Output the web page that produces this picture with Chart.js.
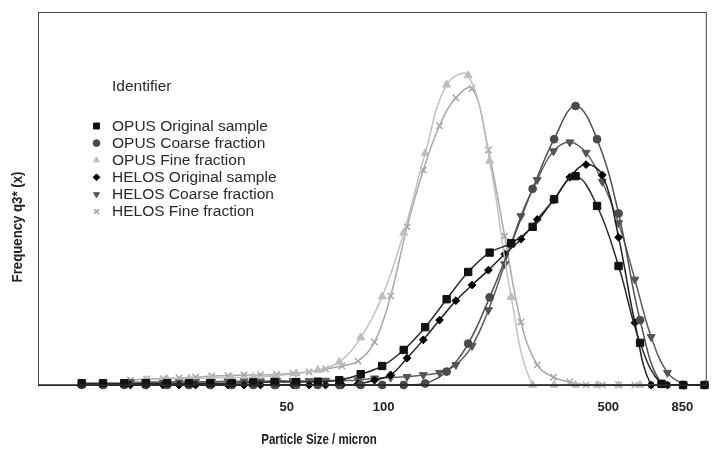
<!DOCTYPE html>
<html><head><meta charset="utf-8">
<script src="https://cdn.jsdelivr.net/npm/chart.js@4.4.1/dist/chart.umd.min.js"></script>
<style>html,body{margin:0;padding:0;background:#fff;} canvas{display:block;}</style>
</head><body>
<canvas id="c" width="713" height="453"></canvas>
<script>
// ---- data (particle size in micron, frequency q3* in arbitrary units) ----
const opusSizes = [11.5, 13.4, 15.6, 18.2, 21.2, 24.8, 28.9, 33.7, 39.3, 45.8, 53.5, 62.4, 72.8, 84.9, 99.0, 115.5, 134.7, 157.1, 183.3, 213.8, 249.4, 290.9, 339.3, 395.7, 461.6, 538.4, 628.0, 732.6, 854.5, 996.7];
const helosSizes = [16.3, 18.3, 20.6, 23.1, 26.0, 29.2, 32.8, 36.8, 41.4, 46.5, 52.3, 58.7, 66.0, 74.2, 83.3, 93.7, 105.2, 118.3, 132.9, 149.3, 167.8, 188.5, 211.9, 238.1, 267.5, 300.6, 337.8, 379.6, 426.5, 479.3, 538.5, 605.1, 680.0, 764.1, 858.6];

const opusOriginal = [0.5, 0.5, 0.5, 0.5, 0.5, 0.5, 0.5, 0.5, 0.7, 0.8, 0.8, 0.9, 1.3, 2.9, 5.1, 9.4, 15.5, 23.0, 30.3, 35.5, 38.0, 42.4, 49.8, 56.0, 48.0, 31.9, 11.3, 0.3, 0, 0];
const opusCoarse = [0, 0, 0, 0, 0, 0, 0, 0, 0, 0, 0, 0, 0, 0, 0, 0, 0.4, 3.6, 11.1, 23.5, 37.8, 52.6, 65.9, 74.8, 65.9, 46.0, 17.4, 0.3, 0, 0];
const opusFine = [0, 0, 0, 1.3, 1.6, 1.7, 1.9, 2.0, 2.1, 2.4, 3.1, 4.0, 6.2, 12.7, 23.7, 40.8, 62.1, 80.5, 83.0, 60.1, 23.6, 0, 0, 0, 0, 0, 0, 0, 0, 0];

const helosOriginal = [0, 0, 0, 0, 0, 0, 0, 0, 0, 0, 0, 0, 0, 0, 0.3, 1.3, 2.7, 7.2, 12.1, 17.4, 22.6, 26.8, 30.8, 35.1, 39.1, 44.4, 49.6, 55.7, 59.1, 56.3, 39.6, 16.7, 0, 0, 0];
const helosCoarse = [0.8, 0.8, 0.8, 0.9, 0.9, 0.9, 1.0, 1.0, 1.0, 1.1, 1.1, 1.1, 1.2, 1.2, 1.3, 1.8, 2.0, 2.2, 2.7, 3.3, 5.4, 10.5, 20.1, 32.4, 45.3, 55.0, 62.7, 65.1, 62.3, 54.5, 43.4, 28.3, 12.9, 3.3, 0];
const helosFine = [1.3, 1.6, 1.7, 1.9, 2.1, 2.4, 2.5, 2.7, 2.7, 2.8, 3.1, 3.5, 4.3, 5.1, 6.4, 11.5, 23.9, 42.4, 57.6, 69.5, 77.0, 79.5, 63.0, 39.9, 16.9, 5.4, 2.1, 0.8, 0, 0, 0, 0, 0, 0, 0];

const seriesLabels = ['OPUS Original sample', 'OPUS Coarse fraction', 'OPUS Fine fraction', 'HELOS Original sample', 'HELOS Coarse fraction', 'HELOS Fine fraction'];
const xTickValues = [50, 100, 500, 850];
const legendTitle = 'Identifier';
const xTitle = 'Particle Size / micron';
const yTitle = 'Frequency q3* (x)';

// ---- styling ----
const SANS = "'Liberation Sans',Arial,sans-serif";

function pts(xs, ys) { return xs.map((x, i) => ({ x: x, y: ys[i] })); }

const looks = [
  { marker: '#111111', line: '#2a2a2a', style: 'rect', r: 5.2, rot: 0, bw: 1 },
  { marker: '#4a4a4a', line: '#505050', style: 'circle', r: 3.9, rot: 0, bw: 1 },
  { marker: '#bdbdbd', line: '#c2c2c2', style: 'triangle', r: 4.6, rot: 0, bw: 1 },
  { marker: '#000000', line: '#1e1e1e', style: 'rectRot', r: 3.9, rot: 0, bw: 1 },
  { marker: '#555555', line: '#5e5e5e', style: 'triangle', r: 4.6, rot: 180, bw: 1 },
  { marker: '#a6a6a6', line: '#a8a8a8', style: 'crossRot', r: 4.5, rot: 0, bw: 1.5 }
];
const seriesData = [
  pts(opusSizes, opusOriginal), pts(opusSizes, opusCoarse), pts(opusSizes, opusFine),
  pts(helosSizes, helosOriginal), pts(helosSizes, helosCoarse), pts(helosSizes, helosFine)
];

const datasets = seriesData.map((d, i) => ({
  label: seriesLabels[i],
  data: d,
  showLine: true,
  borderColor: looks[i].line,
  borderWidth: 1.5,
  tension: 0.4,
  pointStyle: looks[i].style,
  pointRadius: looks[i].r,
  pointRotation: looks[i].rot,
  pointBackgroundColor: looks[i].marker,
  pointBorderColor: looks[i].marker,
  pointBorderWidth: looks[i].bw,
  clip: 6
}));

function drawMarker(ctx, lk, x, y, r) {
  ctx.save();
  ctx.fillStyle = lk.marker; ctx.strokeStyle = lk.marker; ctx.lineWidth = lk.bw;
  if (Chart.helpers && Chart.helpers.drawPoint) {
    Chart.helpers.drawPoint(ctx, { pointStyle: lk.style, radius: r, rotation: lk.rot, borderWidth: lk.bw }, x, y);
  }
  ctx.restore();
}

function condensedText(ctx, text, x, y, rot, font, sx) {
  ctx.save();
  ctx.translate(x, y); ctx.rotate(rot); ctx.scale(sx, 1);
  ctx.font = font; ctx.fillStyle = '#222';
  ctx.textAlign = 'center'; ctx.textBaseline = 'middle';
  ctx.fillText(text, 0, 0);
  ctx.restore();
}

const framePlugin = {
  id: 'frame',
  afterDatasetsDraw(chart) {
    const { ctx, chartArea: a } = chart;
    ctx.save();
    ctx.strokeStyle = '#444'; ctx.lineWidth = 1;
    ctx.strokeRect(a.left + 0.5, a.top + 0.5, a.right - a.left - 1, a.bottom - a.top);
    ctx.strokeStyle = '#222'; ctx.lineWidth = 1.5;
    ctx.beginPath(); ctx.moveTo(a.left, a.bottom); ctx.lineTo(a.right, a.bottom); ctx.stroke();
    ctx.restore();
  },
  afterDraw(chart) {
    const { ctx } = chart;
    // axis titles (condensed bold, as in the reference)
    condensedText(ctx, yTitle, 18, 227, -Math.PI / 2, 'bold 15px ' + SANS, 0.88);
    condensedText(ctx, xTitle, 319, 440, 0, 'bold 14px ' + SANS, 0.82);
    // legend
    ctx.save();
    ctx.font = '15.5px ' + SANS; ctx.fillStyle = '#2a2a2a';
    ctx.textAlign = 'left'; ctx.textBaseline = 'middle';
    ctx.fillText(legendTitle, 112, 87);
    seriesLabels.forEach((lab, i) => {
      const y = 126 + i * 17.1;
      drawMarker(ctx, looks[i], 96.5, y, looks[i].style === 'rect' ? 4.2 : 3.4);
      ctx.fillStyle = '#2a2a2a';
      ctx.fillText(lab, 112, y + 0.5);
    });
    ctx.restore();
  }
};

new Chart(document.getElementById('c'), {
  type: 'scatter',
  data: { datasets: datasets },
  options: {
    responsive: false,
    animation: false,
    devicePixelRatio: 1,
    layout: { padding: { left: 38, top: 12, right: 4, bottom: 0 } },
    plugins: { legend: { display: false }, tooltip: { enabled: false } },
    scales: {
      x: {
        type: 'logarithmic',
        min: 8.41, max: 1013,
        bounds: 'data',
        grid: { display: false, drawTicks: false },
        border: { display: false },
        afterFit(s) { s.height = 68; },
        afterBuildTicks(s) { s.ticks = xTickValues.map(v => ({ value: v })); },
        ticks: {
          autoSkip: false, maxRotation: 0, padding: 15, color: '#222',
          font: { family: SANS, size: 13, weight: 'bold' },
          callback: (v) => String(v)
        },
        title: { display: false, text: xTitle }
      },
      y: {
        display: false,
        min: 0, max: 100,
        title: { display: false, text: yTitle }
      }
    }
  },
  plugins: [framePlugin]
});
</script>
</body></html>
